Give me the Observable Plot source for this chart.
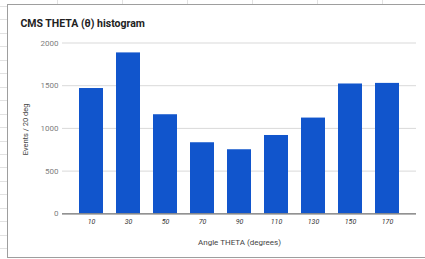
<!DOCTYPE html>
<html>
<head>
<meta charset="utf-8">
<script src="https://cdn.jsdelivr.net/npm/d3@7"></script>
<script src="https://cdn.jsdelivr.net/npm/@observablehq/plot@0.6"></script>
<style>
  html, body { margin: 0; padding: 0; width: 425px; height: 259px; overflow: hidden; background: #fff; font-family: Roboto, "Noto Sans", sans-serif; }
  #rows { position: absolute; left: 0; top: 0; width: 7px; height: 259px;
    background: repeating-linear-gradient(to bottom, transparent 0px, transparent 6px, #e2e2e2 6px, #e2e2e2 7px, transparent 7px, transparent 13.45px); }
  #cols { position: absolute; left: 0; top: 0; width: 425px; height: 4px;
    background: repeating-linear-gradient(to right, transparent 0px, transparent 57px, #e2e2e2 57px, #e2e2e2 58px, transparent 58px, transparent 65px); }
  #box { position: absolute; left: 7px; top: 4px; width: 430px; height: 252px;
    border-left: 1.5px solid #9e9e9e; border-top: 1.5px solid #9e9e9e; border-bottom: 1.5px solid #9e9e9e; background: #fff; }
  #chart { position: absolute; left: 0; top: 0; }
  #title { position: absolute; left: 20.5px; top: 16.5px; font: bold 10.5px Roboto, sans-serif; color: #222; white-space: nowrap; }
</style>
</head>
<body>
<div id="rows"></div>
<div id="cols"></div>
<div id="box"></div>
<div id="chart"></div>
<div id="title">CMS THETA (θ) histogram</div>
<script>
const angles = ["10", "30", "50", "70", "90", "110", "130", "150", "170"];
const events = [1467, 1884, 1160, 832, 750, 917, 1121, 1520, 1527];
const yTicks = [0, 500, 1000, 1500, 2000];
const xTitle = "Angle THETA (degrees)";
const yTitle = "Events / 20 deg";

const data = angles.map((a, i) => ({angle: a, events: events[i]}));

const chart = Plot.plot({
  width: 425,
  height: 259,
  marginLeft: 62,
  marginRight: 9,
  marginTop: 42.5,
  marginBottom: 45.7,
  style: {background: "transparent", fontFamily: "Roboto, sans-serif"},
  x: {domain: angles, paddingInner: 0.35, paddingOuter: 0.357, align: 0.5, label: null},
  y: {domain: [0, 2000], label: null},
  marks: [
    Plot.gridY(yTicks.filter(d => d > 0), {stroke: "#d9d9d9", strokeOpacity: 1, strokeWidth: 1}),
    Plot.barY(data, {x: "angle", y: "events", fill: "#1155cc"}),
    Plot.ruleY([0], {stroke: "#6e6e6e", strokeWidth: 1.3}),
    Plot.axisY({ticks: yTicks, tickFormat: d3.format("d"), tickSize: 0, tickPadding: 4, fontSize: 8, fill: "#808080", label: null}),
    Plot.axisX({tickSize: 0, tickPadding: 5, fontSize: 7, fill: "#333", fontStyle: "italic", label: null}),
    Plot.text([xTitle], {frameAnchor: "bottom", dy: 28.4, lineAnchor: "middle", fontSize: 8, fill: "#444"}),
    Plot.text([yTitle], {frameAnchor: "left", dx: -37, dy: 1, rotate: -90, textAnchor: "middle", lineAnchor: "middle", fontSize: 7.5, fill: "#444"})
  ]
});
document.getElementById("chart").appendChild(chart);
</script>
</body>
</html>
